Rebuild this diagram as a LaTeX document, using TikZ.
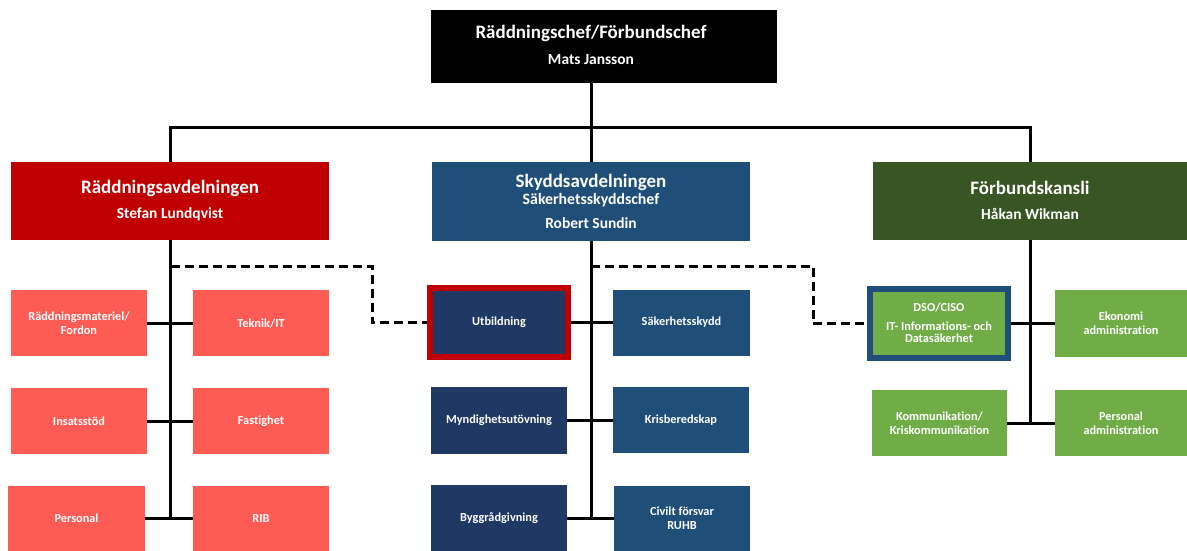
\documentclass[tikz,border=0pt]{standalone}
\usepackage{fontspec}
\setmainfont{Carlito}[Ligatures=NoCommon]
\definecolor{darkred}{HTML}{C00000}
\definecolor{salmon}{HTML}{FF5B55}
\definecolor{navy}{HTML}{203864}
\definecolor{steel}{HTML}{1F4E79}
\definecolor{dgreen}{HTML}{375623}
\definecolor{lgreen}{HTML}{70AD47}
\begin{document}
\begin{tikzpicture}[x=0.02cm,y=-0.02cm,
  sized/.style 2 args={minimum width=#1*0.02cm, minimum height=#2*0.02cm},
  box/.style={inner sep=0pt, outer sep=0pt, text=white, font=\bfseries, align=center},
  head/.style={box, font=\bfseries\fontsize{10.8}{12}\selectfont},
  sub/.style={box, font=\bfseries\fontsize{8.8}{10}\selectfont},
  child/.style={box, font=\bfseries\fontsize{7}{8}\selectfont},
  conn/.style={line width=0.06cm, black},
  dashconn/.style={line width=0.06cm, black, dash pattern=on 0.18cm off 0.1cm}]
\useasboundingbox (0,0) rectangle (1187,551);

% top
\node[box, fill=black, sized={346}{73}] (top) at (604,46.5) {};
\node[head] (toptitle) at (591,33) {Räddningschef/Förbundschef};
\node[sub] (topname) at (591,60) {Mats Jansson};

% departments
\node[box, fill=darkred, sized={318}{78}] (rad) at (170,201) {};
\node[head] (radtitle) at (170,188) {Räddningsavdelningen};
\node[sub] (radname) at (170,214) {Stefan Lundqvist};

\node[box, fill=steel, sized={318}{79}] (skydd) at (591,201.5) {};
\node[head] (skyddtitle) at (591,182) {Skyddsavdelningen};
\node[sub, font=\bfseries\fontsize{9}{10}\selectfont] (skyddrole) at (591,200) {Säkerhetsskyddschef};
\node[sub] (skyddname) at (591,223) {Robert Sundin};

\node[box, fill=dgreen, sized={314}{78}] (fbk) at (1030,201) {};
\node[head] (fbktitle) at (1030,188) {Förbundskansli};
\node[sub] (fbkname) at (1030,214) {Håkan Wikman};

% left children
\node[child, fill=salmon, sized={136}{66}] (rmf) at (79,323) {Räddningsmateriel/\\Fordon};
\node[child, fill=salmon, sized={136}{66}] (tek) at (261,323) {Teknik/IT};
\node[child, fill=salmon, sized={136}{66}] (ins) at (79,421) {Insatsstöd};
\node[child, fill=salmon, sized={136}{66}] (fas) at (261,421) {Fastighet};
\node[child, fill=salmon, sized={137}{65}] (pers) at (76.5,518.5) {Personal};
\node[child, fill=salmon, sized={136}{65}] (rib) at (261,518.5) {RIB};

% center children
\node[child, fill=navy, draw=darkred, line width=0.12cm, outer sep=0.06cm, sized={138}{69}] (util) at (499,322.5) {Utbildning};
\node[child, fill=steel, sized={137}{66}] (sak) at (681.5,322.5) {Säkerhetsskydd};
\node[child, fill=navy, sized={136}{67}] (myn) at (499,420) {Myndighetsutövning};
\node[child, fill=steel, sized={136}{66}] (kris) at (681,420) {Krisberedskap};
\node[child, fill=navy, sized={136}{67}] (byg) at (499,518) {Byggrådgivning};
\node[child, fill=steel, sized={136}{65}] (civ) at (682,518) {Civilt försvar\\RUHB};

% right children
\node[child, fill=lgreen, draw=steel, line width=0.12cm, outer sep=0.06cm, sized={138}{69}] (dso) at (939,323.5) {};
\node[child] (dsotitle) at (939,307) {DSO/CISO};
\node[child] (dsotext) at (939,332.5) {IT- Informations- och\\[-1pt]Datasäkerhet};
\node[child, fill=lgreen, sized={132}{67}] (eko) at (1121,323.5) {Ekonomi\\administration};
\node[child, fill=lgreen, sized={135}{66}] (kom) at (939.5,423) {Kommunikation/\\Kriskommunikation};
\node[child, fill=lgreen, sized={132}{66}] (padm) at (1121,423) {Personal\\administration};

% top connectors
\coordinate (bus) at (591,127);
\draw[conn] (top.south -| skydd.north) -- (skydd.north);
\draw[conn] (rad.north) |- (bus) -| (fbk.north);

% left connectors
\draw[conn] (rad.south) -- (rad.south |- rib.west);
\draw[conn] (rmf.east) -- (tek.west);
\draw[conn] (ins.east) -- (fas.west);
\draw[conn] (pers.east) -- (rib.west);

% center connectors
\draw[conn] (skydd.south) -- (skydd.south |- byg.east);
\draw[conn] (util.east) -- (sak.west);
\draw[conn] (myn.east) -- (kris.west);
\draw[conn] (byg.east) -- (civ.west);

% right connectors
\draw[conn] (fbk.south) -- (fbk.south |- kom.east);
\draw[conn] (dso.east) -- (eko.west);
\draw[conn] (kom.east) -- (padm.west);

% dashed connectors
\coordinate (r1) at (171,266);
\coordinate (r2) at (372,266);
\coordinate (s1) at (591,266);
\coordinate (s2) at (813,266);
\draw[dashconn] (r1) -- (r2) |- (util.west);
\draw[dashconn] (s1) -- (s2) |- (dso.west);
\end{tikzpicture}
\end{document}
